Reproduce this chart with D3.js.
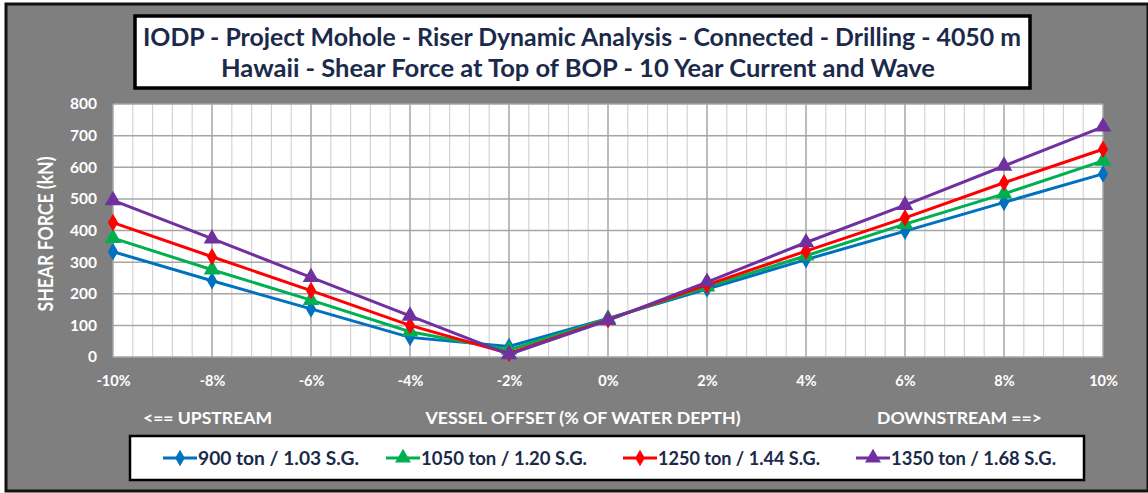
<!DOCTYPE html>
<html>
<head>
<meta charset="utf-8">
<script src="https://cdn.jsdelivr.net/npm/d3@7"></script>
<style>
  body { margin: 0; background: #fff; }
  text { font-family: Lato, "Open Sans", sans-serif; font-weight: bold; }
</style>
</head>
<body>
<div id="vis-container"></div>
<script>

////////////////////////////////////
/////////////// Data ///////////////
////////////////////////////////////

const offsets = [-10, -8, -6, -4, -2, 0, 2, 4, 6, 8, 10]

const seriesNames = ['900 ton / 1.03 S.G.', '1050 ton / 1.20 S.G.', '1250 ton / 1.44 S.G.', '1350 ton / 1.68 S.G.']

const shear900 = [333, 241, 152, 62, 33, 122, 215, 308, 398, 489, 579]
const shear1050 = [376, 276, 180, 80, 22, 120, 222, 320, 420, 516, 620]
const shear1250 = [425, 317, 210, 100, 11, 118, 228, 335, 440, 551, 657]
const shear1350 = [495, 374, 252, 130, 8, 116, 237, 362, 480, 604, 728]

const yTicks = [0, 100, 200, 300, 400, 500, 600, 700, 800]

const titleLines = [
    'IODP - Project Mohole - Riser Dynamic Analysis - Connected - Drilling - 4050 m',
    'Hawaii - Shear Force at Top of BOP - 10 Year Current and Wave'
]

////////////////////////////////////
///////////// SVG Setup ////////////
////////////////////////////////////

const svgWidth = 1148
const svgHeight = 493

const plot = { left: 113, right: 1103, top: 104, bottom: 357 }

const colors = ['#0070C0', '#00B050', '#FF0000', '#7030A0']
const shapes = [d3.symbolDiamond, d3.symbolTriangle, d3.symbolDiamond, d3.symbolTriangle]
const navy = '#1B2A4A'

const svg = d3.select('#vis-container')
    .append('svg')
    .attr('width', svgWidth)
    .attr('height', svgHeight)

// gray chart background with black frame
svg.append('rect')
    .attr('x', 6).attr('y', 4)
    .attr('width', svgWidth - 6).attr('height', 487)
    .attr('fill', '#7F7F7F')
    .attr('stroke', '#111')
    .attr('stroke-width', 3)

////////////////////////////////////
/////////////// Title //////////////
////////////////////////////////////

svg.append('rect')
    .attr('x', 135).attr('y', 16)
    .attr('width', 895).attr('height', 72)
    .attr('fill', '#fff')
    .attr('stroke', '#000')
    .attr('stroke-width', 3.5)

svg.append('text')
    .attr('x', 582).attr('y', 46)
    .attr('text-anchor', 'middle')
    .attr('font-size', 25)
    .attr('fill', navy)
    .attr('textLength', 878)
    .attr('lengthAdjust', 'spacingAndGlyphs')
    .text(titleLines[0])

svg.append('text')
    .attr('x', 578).attr('y', 77)
    .attr('text-anchor', 'middle')
    .attr('font-size', 25)
    .attr('fill', navy)
    .attr('textLength', 714)
    .attr('lengthAdjust', 'spacingAndGlyphs')
    .text(titleLines[1])

////////////////////////////////////
/////////////// Scales /////////////
////////////////////////////////////

const xScale = d3.scaleLinear()
    .domain([-10, 10])
    .range([plot.left, plot.right])

const yScale = d3.scaleLinear()
    .domain([0, 800])
    .range([plot.bottom, plot.top])

////////////////////////////////////
/////////////// Grid ///////////////
////////////////////////////////////

svg.append('rect')
    .attr('x', plot.left).attr('y', plot.top)
    .attr('width', plot.right - plot.left)
    .attr('height', plot.bottom - plot.top)
    .attr('fill', '#fff')

const minorX = d3.range(-10, 10.001, 0.4).filter(v => Math.abs(v / 2 - Math.round(v / 2)) > 0.01)

svg.append('g')
    .selectAll('line')
    .data(minorX)
    .join('line')
    .attr('x1', d => xScale(d)).attr('x2', d => xScale(d))
    .attr('y1', plot.top).attr('y2', plot.bottom)
    .attr('stroke', '#D4D4D4')
    .attr('stroke-width', 1.2)

svg.append('g')
    .selectAll('line')
    .data(yTicks)
    .join('line')
    .attr('x1', plot.left).attr('x2', plot.right)
    .attr('y1', d => yScale(d)).attr('y2', d => yScale(d))
    .attr('stroke', '#A6A6A6')
    .attr('stroke-width', 1.5)

svg.append('g')
    .selectAll('line')
    .data(offsets)
    .join('line')
    .attr('x1', d => xScale(d)).attr('x2', d => xScale(d))
    .attr('y1', plot.top).attr('y2', plot.bottom)
    .attr('stroke', '#A6A6A6')
    .attr('stroke-width', 1.5)

////////////////////////////////////
////////////// Axis ////////////////
////////////////////////////////////

const yAxis = d3.axisLeft(yScale)
    .tickValues(yTicks)
    .tickSize(0)
    .tickPadding(16)

const xAxis = d3.axisBottom(xScale)
    .tickValues(offsets)
    .tickSize(0)
    .tickFormat(d => d + '%')
    .tickPadding(19)

svg.append('g')
    .attr('transform', `translate(${plot.left},0)`)
    .call(yAxis)
    .call(g => g.select('.domain').remove())
    .selectAll('text')
    .attr('font-size', 15.5)
    .attr('font-family', 'Lato, sans-serif')
    .attr('font-weight', 'bold')
    .attr('fill', '#fff')

svg.append('g')
    .attr('transform', `translate(0,${plot.bottom})`)
    .call(xAxis)
    .call(g => g.select('.domain').remove())
    .selectAll('text')
    .attr('font-size', 14.5)
    .attr('font-family', 'Lato, sans-serif')
    .attr('font-weight', 'bold')
    .attr('fill', '#fff')

svg.append('text')
    .attr('transform', 'translate(53,234) rotate(-90)')
    .attr('text-anchor', 'middle')
    .attr('font-size', 20)
    .attr('fill', '#fff')
    .attr('textLength', 155)
    .attr('lengthAdjust', 'spacingAndGlyphs')
    .text('SHEAR FORCE (kN)')

const xLabels = [
    { text: '<== UPSTREAM', x: 143, anchor: 'start', len: 129 },
    { text: 'VESSEL OFFSET (% OF WATER DEPTH)', x: 583, anchor: 'middle', len: 315 },
    { text: 'DOWNSTREAM ==>', x: 1042, anchor: 'end', len: 165 }
]

svg.append('g')
    .selectAll('text')
    .data(xLabels)
    .join('text')
    .attr('x', d => d.x)
    .attr('y', 424)
    .attr('text-anchor', d => d.anchor)
    .attr('font-size', 17.5)
    .attr('fill', '#fff')
    .attr('textLength', d => d.len)
    .attr('lengthAdjust', 'spacingAndGlyphs')
    .text(d => d.text)

////////////////////////////////////
///////////// Add Lines ////////////
////////////////////////////////////

const allSeries = [shear900, shear1050, shear1250, shear1350].map((vals, i) => ({
    name: seriesNames[i],
    color: colors[i],
    shape: shapes[i],
    points: vals.map((v, j) => ({ x: offsets[j], y: v }))
}))

const line = d3.line()
    .x(d => xScale(d.x))
    .y(d => yScale(d.y))

const seriesG = svg.selectAll('.series')
    .data(allSeries)
    .join('g')
    .attr('class', 'series')

seriesG.append('path')
    .attr('d', d => line(d.points))
    .attr('fill', 'none')
    .attr('stroke', d => d.color)
    .attr('stroke-width', 3)

seriesG.each(function (s) {
    d3.select(this).selectAll('path.marker')
        .data(s.points)
        .join('path')
        .attr('class', 'marker')
        .attr('transform', d => `translate(${xScale(d.x)},${yScale(d.y)})`)
        .attr('d', d3.symbol().type(s.shape).size(s.shape === d3.symbolTriangle ? 120 : 90))
        .attr('fill', s.color)
})

////////////////////////////////////
/////////////// Legend /////////////
////////////////////////////////////

svg.append('rect')
    .attr('x', 130).attr('y', 436)
    .attr('width', 954).attr('height', 44)
    .attr('fill', '#fff')
    .attr('stroke', '#000')
    .attr('stroke-width', 2.5)

const legendX = [163, 386, 623, 856]
const legendLen = [161, 166, 162, 165]

const legend = svg.selectAll('.legend')
    .data(allSeries)
    .join('g')
    .attr('class', 'legend')
    .attr('transform', (d, i) => `translate(${legendX[i]},458)`)

legend.append('line')
    .attr('x1', 0).attr('x2', 34)
    .attr('stroke', d => d.color)
    .attr('stroke-width', 3)

legend.append('path')
    .attr('transform', 'translate(17,0)')
    .attr('d', d => d3.symbol().type(d.shape).size(d.shape === d3.symbolTriangle ? 110 : 80)())
    .attr('fill', d => d.color)

legend.append('text')
    .attr('x', 35)
    .attr('y', 6.5)
    .attr('font-size', 19)
    .attr('fill', navy)
    .attr('textLength', (d, i) => legendLen[i])
    .attr('lengthAdjust', 'spacingAndGlyphs')
    .text(d => d.name)

</script>
</body>
</html>
